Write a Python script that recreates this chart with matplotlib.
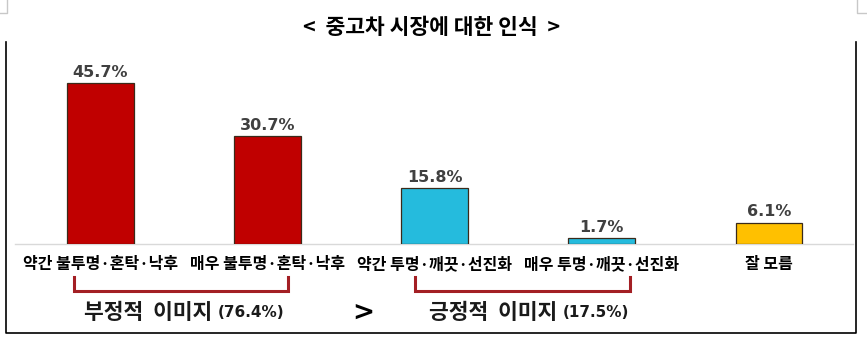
import matplotlib.pyplot as plt
from matplotlib.lines import Line2D

plt.rcParams['font.family'] = ['Noto Sans CJK KR', 'DejaVu Sans']

# data
categories = ['약간 불투명·혼탁·낙후', '매우 불투명·혼탁·낙후',
              '약간 투명·깨끗·선진화', '매우 투명·깨끗·선진화', '잘 모름']
values = [45.7, 30.7, 15.8, 1.7, 6.1]
bar_colors = ['#C00000', '#C00000', '#25BBDD', '#25BBDD', '#FFC000']
group_names = ['부정적  이미지', '긍정적  이미지']
group_shares = ['(76.4%)', '(17.5%)']
title = '<  중고차 시장에 대한 인식  >'

W, H = 867, 345
fig = plt.figure(figsize=(W / 100, H / 100), dpi=100)

# axes placed in pixel terms: baseline at y=244, left 15, right 853
ax = fig.add_axes([15 / W, (H - 244) / H, (853 - 15) / W, 202 / H])
x = list(range(len(values)))
ax.bar(x, values, width=0.40, color=bar_colors, edgecolor='#3a2a1a', linewidth=0.9, zorder=3)
ax.set_xlim(-0.512, 4.503)
ax.set_ylim(0, 57.4)

for xi, v in zip(x, values):
    ax.text(xi, v + 0.9, f'{v}%', ha='center', va='bottom', fontsize=11.5,
            fontweight='bold', color='#404040', family='DejaVu Sans')

ax.set_xticks(x)
ax.set_xticklabels(categories, fontsize=11.5, fontweight='bold', color='black')
ax.tick_params(axis='x', length=0, pad=9)
ax.set_yticks([])
for side in ['left', 'right', 'top']:
    ax.spines[side].set_visible(False)
ax.spines['bottom'].set_color('#d9d9d9')
ax.spines['bottom'].set_linewidth(1)

# brackets under the groups
trans = ax.get_xaxis_transform()
y_top, y_bot = -0.165, -0.232
bracket_color = '#A31F24'
for a, b in [(-0.16, 1.12), (1.88, 3.17)]:
    ax.plot([a, a, b, b], [y_top, y_bot, y_bot, y_top], transform=trans,
            color=bracket_color, lw=2.2, clip_on=False, solid_joinstyle='miter')

# group captions: korean name + smaller share
for xb, name, share in zip([0.686, 2.751], group_names, group_shares):
    ax.text(xb - 0.015, -0.34, name, transform=trans, ha='right', va='center',
            fontsize=15.5, fontweight='bold', color='#1a1a1a')
    ax.text(xb + 0.015, -0.34, share, transform=trans, ha='left', va='center',
            fontsize=11, fontweight='bold', color='#1a1a1a', family='DejaVu Sans')
ax.text(1.57, -0.34, '>', transform=trans, ha='center', va='center',
        fontsize=19, fontweight='bold', family='DejaVu Sans')

fig.text(432 / W, 1 - 27 / H, title, ha='center', va='center',
         fontsize=15.5, fontweight='bold')

# outer frame
def px_line(xs, ys, color, lw):
    fig.add_artist(Line2D([v / W for v in xs], [1 - v / H for v in ys],
                          transform=fig.transFigure, color=color, lw=lw))

px_line([6, 6, 856, 856], [42, 333, 333, 42], 'black', 1.2)
px_line([0, 6.5, 6.5], [13, 13, 0], '#c8c8c8', 1)
px_line([867, 857, 857], [13, 13, 0], '#c8c8c8', 1)

fig.savefig('out.png', dpi=100)
